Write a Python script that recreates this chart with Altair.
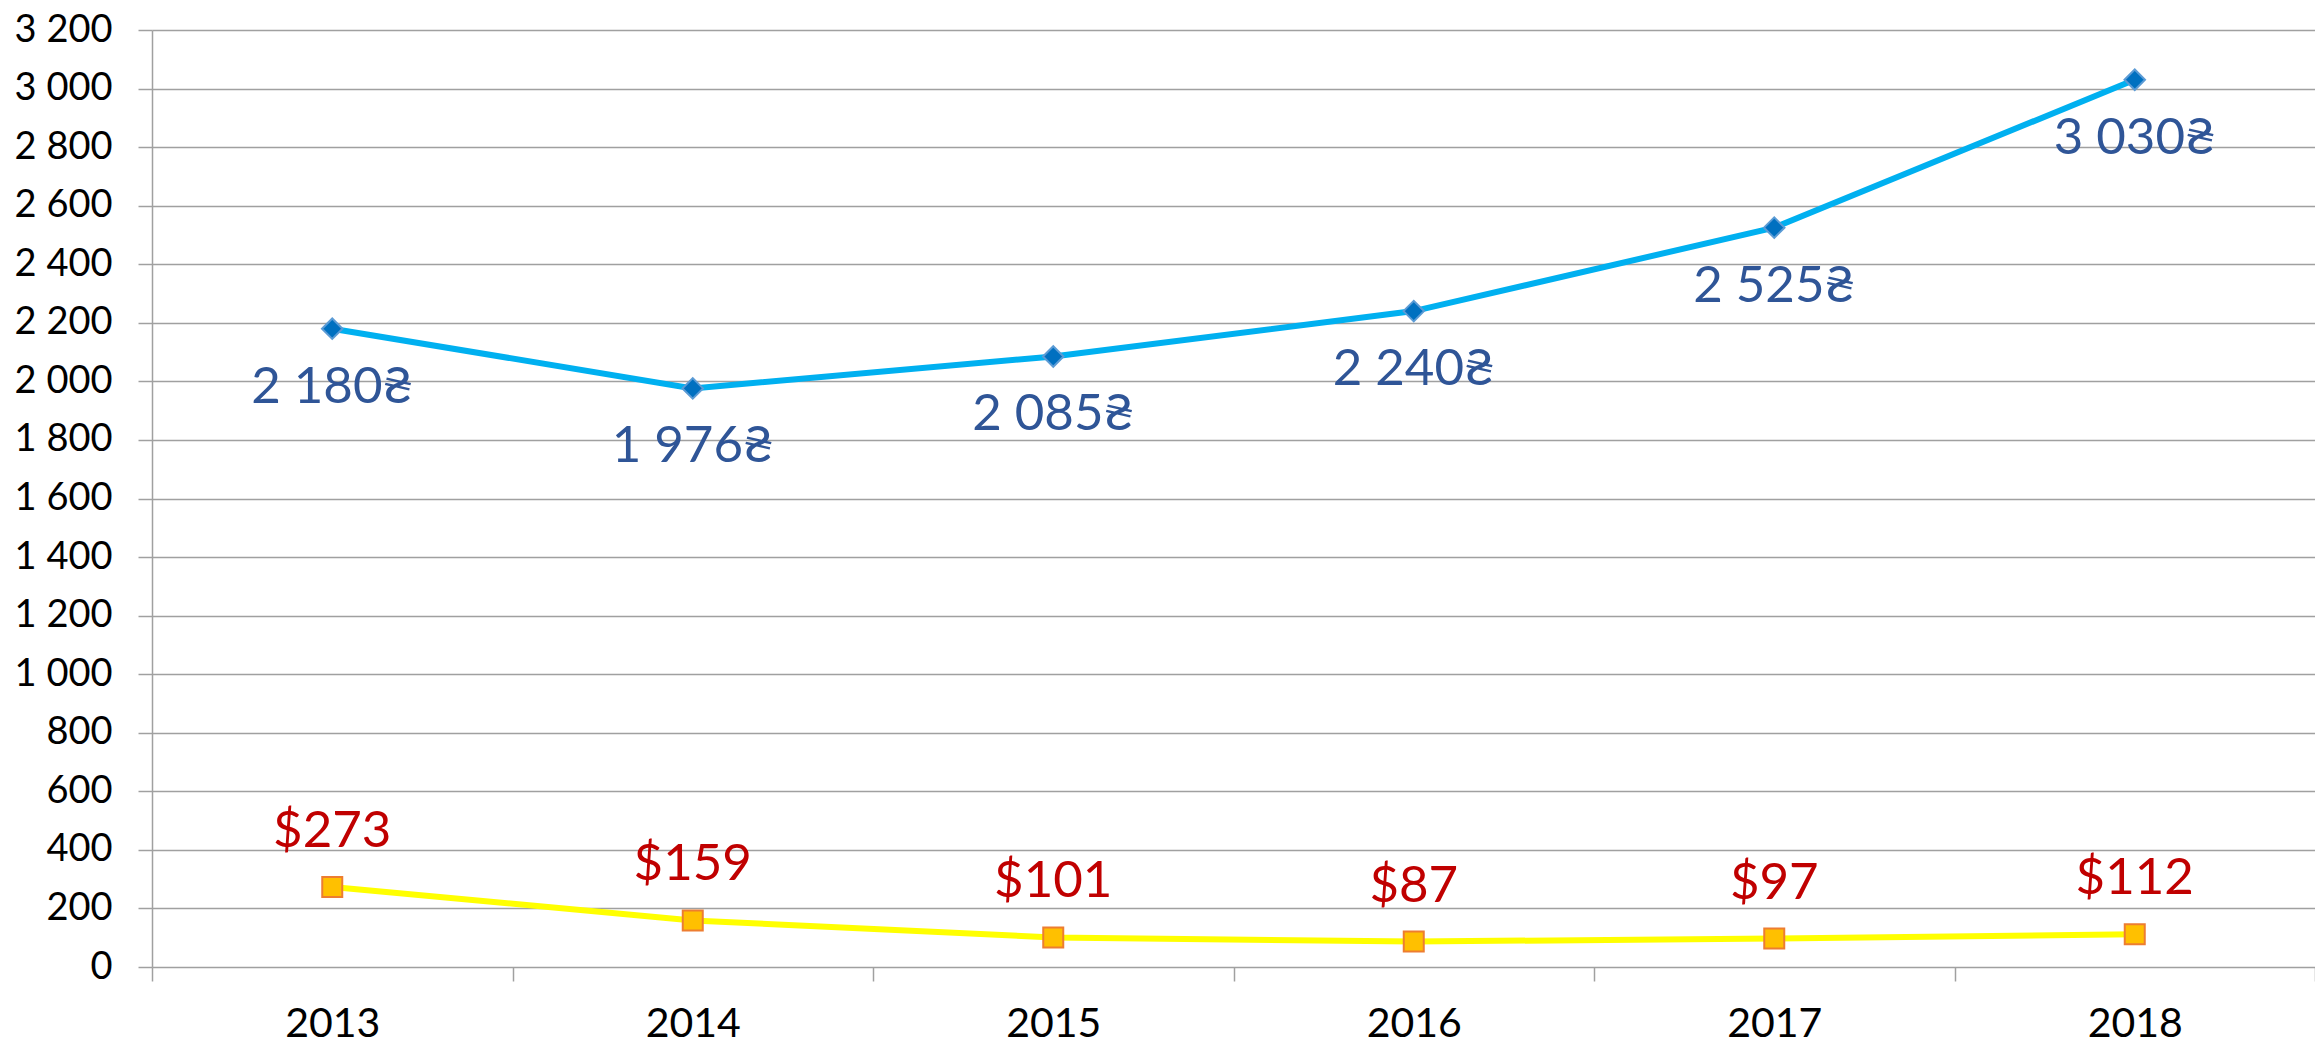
import altair as alt
import pandas as pd

years = ["2013", "2014", "2015", "2016", "2017", "2018"]
uah = [2180, 1976, 2085, 2240, 2525, 3030]
usd = [273, 159, 101, 87, 97, 112]
uah_labels = ["2 180₴", "1 976₴", "2 085₴", "2 240₴", "2 525₴", "3 030₴"]
usd_labels = ["$273", "$159", "$101", "$87", "$97", "$112"]

df_uah = pd.DataFrame({"year": years, "v": uah, "lab": uah_labels})
df_usd = pd.DataFrame({"year": years, "v": usd, "lab": usd_labels})

FONT = "Lato, DejaVu Sans"
GRID = "#A0A0A0"

x = alt.X("year:O", title=None,
          axis=alt.Axis(labelAngle=0, labelFont=FONT, labelFontSize=41, labelColor="#000000",
                        tickBand="extent", tickSize=14, tickColor=GRID, tickWidth=1.5,
                        domain=False, labelPadding=23, grid=False),
          scale=alt.Scale(paddingInner=0, paddingOuter=0))
y = alt.Y("v:Q", title=None,
          scale=alt.Scale(domain=[0, 3200], nice=False),
          axis=alt.Axis(values=list(range(0, 3201, 200)),
                        labelExpr="replace(format(datum.value, ','), ',', ' ')",
                        labelFont=FONT, labelFontSize=38, labelColor="#000000",
                        tickSize=14, tickColor=GRID, tickWidth=1.5,
                        domainColor=GRID, domainWidth=1.5, labelPadding=26,
                        grid=True, gridColor=GRID, gridWidth=1.5))

line_uah = alt.Chart(df_uah).mark_line(color="#00B0F0", strokeWidth=6).encode(x=x, y=y)
pts_uah = alt.Chart(df_uah).mark_point(shape="diamond", size=420, filled=True, fill="#0070C0",
                                        stroke="#5B9BD5", strokeWidth=2, opacity=1).encode(x=x, y=y)
txt_uah = alt.Chart(df_uah).mark_text(font=FONT, fontSize=51, color="#2F5597", dy=59,
                                       baseline="middle", align="center").encode(x=x, y=y, text="lab:N")

line_usd = alt.Chart(df_usd).mark_line(color="#FFFF00", strokeWidth=6).encode(x=x, y=y)
pts_usd = alt.Chart(df_usd).mark_point(shape="square", size=400, filled=True, fill="#FFC000",
                                        stroke="#ED7D31", strokeWidth=2, opacity=1).encode(x=x, y=y)
txt_usd = alt.Chart(df_usd).mark_text(font=FONT, fontSize=51, color="#C00000", dy=-55,
                                       baseline="middle", align="center").encode(x=x, y=y, text="lab:N")

chart = alt.layer(line_uah, pts_uah, txt_uah, line_usd, pts_usd, txt_usd).properties(
    width=2163, height=937,
    autosize=alt.AutoSizeParams(type="none"),
    padding={"left": 152, "top": 30, "right": 0, "bottom": 80},
    background="white",
).configure_view(stroke=None)

chart.save("out.html", embed_options={"renderer": "svg", "actions": False})
